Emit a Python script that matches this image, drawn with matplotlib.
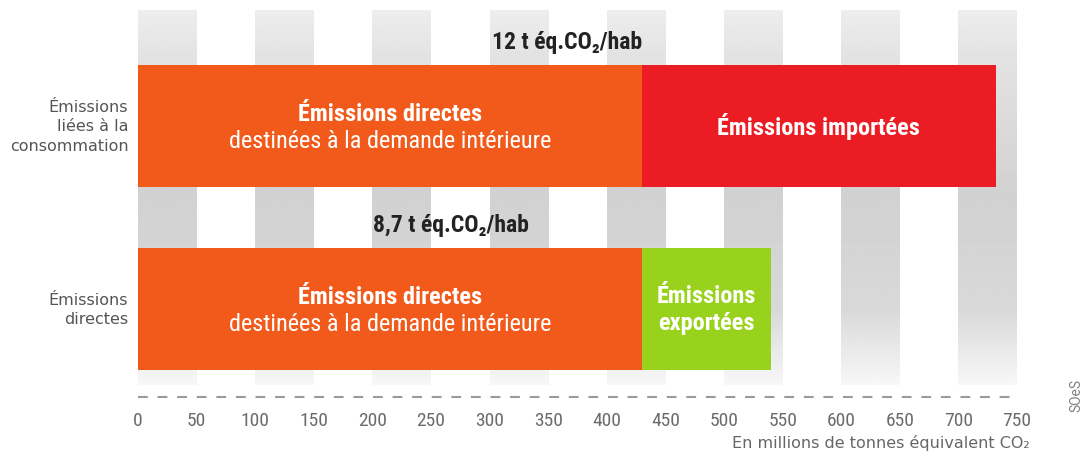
import numpy as np
import matplotlib
matplotlib.use('Agg')
import matplotlib.pyplot as plt
from matplotlib.transforms import ScaledTranslation

# Emissions in millions of tonnes CO2 equivalent
categories = ['Émissions\nliées à la\nconsommation', 'Émissions\ndirectes']
domestic = [430, 430]      # direct emissions for domestic demand
imported = [302, 0]        # imported emissions
exported = [0, 110]        # exported emissions
per_capita = ['12 t éq.CO₂/hab', '8,7 t éq.CO₂/hab']
ticks = list(range(0, 751, 50))

ORANGE = '#f15a1a'
RED = '#ec1c24'
GREEN = '#98d21c'

NARROW = ['Roboto Condensed', 'DejaVu Sans']
plt.rcParams['font.family'] = NARROW

fig = plt.figure(figsize=(10.81, 4.57), dpi=100)
ax = fig.add_axes([138 / 1081, 1 - 400 / 457, 879 / 1081, 390 / 457])

# vertical gray stripes with a soft gradient
band_top, band_bottom = -0.634, 1.415
ys = np.linspace(0, 1, 200)
shade = np.interp(ys, [0, 0.12, 0.5, 0.8, 1.0], [0.93, 0.89, 0.82, 0.85, 0.97])
img = np.repeat(shade[:, None], 2, axis=1)
for x0 in range(0, 750, 100):
    ax.imshow(img, cmap='gray', vmin=0, vmax=1, aspect='auto',
              extent=(x0, x0 + 50, band_bottom, band_top), zorder=0,
              interpolation='bilinear')
ax.set_xlim(0, 750)
ax.set_ylim(1.497, -0.634)

pos = np.arange(len(categories))
h = 0.667
ax.barh(pos, domestic, height=h, color=ORANGE, zorder=2)
ax.barh(pos, imported, left=domestic, height=h, color=RED, zorder=2)
ax.barh(pos, exported, left=domestic, height=h, color=GREEN, zorder=2)

bold = dict(color='white', fontweight='bold', fontsize=17.5, ha='center', va='center', zorder=3)
reg = dict(color='white', fontsize=17.5, ha='center', va='center', zorder=3)
for i in pos:
    ax.text(domestic[i] / 2, i - 0.065, 'Émissions directes', **bold)
    ax.text(domestic[i] / 2, i + 0.085, 'destinées à la demande intérieure', **reg)
    total = domestic[i] + imported[i] + exported[i]
    ax.text(total / 2 - 3 * i, i - 0.459, per_capita[i], color='#222222',
            fontweight='bold', fontsize=17, ha='center', va='center')

ax.text(domestic[0] + imported[0] / 2, 0, 'Émissions importées', **bold)
ax.text(domestic[1] + exported[1] / 2, 1.005, 'Émissions\nexportées', linespacing=1.2, **bold)

# dashed baseline
ax.plot([0, 752], [1.481, 1.481], color='#9a9a9a', lw=1.5, ls=(0, (4.7, 4.7)),
        clip_on=False)

ax.set_xticks(ticks)
ax.set_xticklabels([str(t) for t in ticks], color='#6b6b6b', fontsize=14)
ax.tick_params(axis='x', length=0, pad=9)
ax.set_yticks(pos)
ax.set_yticklabels(categories, color='#555555', fontsize=11.5, linespacing=1.36,
                   family=['DejaVu Sans'])
ax.tick_params(axis='y', length=0, pad=7)
shift = ScaledTranslation(0, 3 / 100, fig.dpi_scale_trans)
for lbl in ax.get_yticklabels():
    lbl.set_transform(lbl.get_transform() + shift)
for s in ax.spines.values():
    s.set_visible(False)

fig.text(1030 / 1081, 1 - 443 / 457, 'En millions de tonnes équivalent CO₂',
         ha='right', va='center', color='#666666', fontsize=11.5,
         family=['DejaVu Sans'])
fig.text(1076 / 1081, 1 - 396 / 457, 'SOeS', rotation=90, ha='center', va='center',
         color='#808080', fontsize=10, family=['Roboto', 'DejaVu Sans'])

fig.savefig('out.png', dpi=100, facecolor='white')
